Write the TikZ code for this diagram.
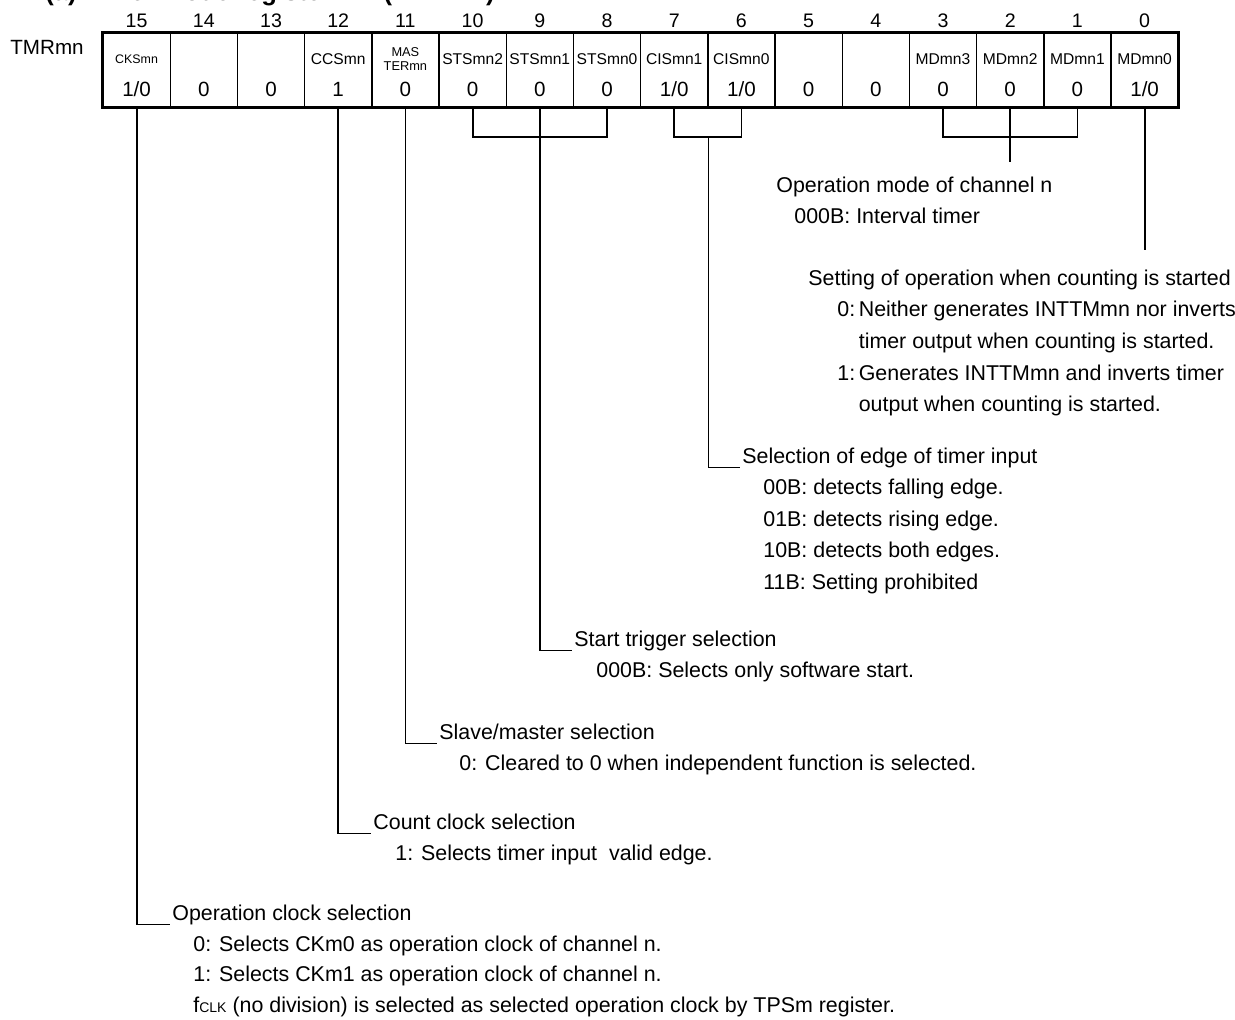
\documentclass[tikz,border=0pt]{standalone}
\usepackage{fontspec}
\setmainfont{Liberation Sans}
\usetikzlibrary{calc}

\newcommand{\vOneZero}{1/0}
\newcommand{\hang}[1]{\makebox[1em][l]{#1}}

\tikzset{
  bitno/.style={font=\fontsize{9.8}{11}\selectfont, inner sep=0pt},
  fldname/.style={font=\fontsize{7.8}{9}\selectfont, inner sep=0pt},
  fldsmall/.style={font=\fontsize{6.2}{7}\selectfont, inner sep=0pt, align=center},
  fldval/.style={font=\fontsize{10.3}{11}\selectfont, inner sep=0pt},
  cell/.style={draw, line width=0.7pt, minimum width=33.6pt, minimum height=37pt, inner sep=0pt},
  desc/.style={font=\fontsize{10.7}{15.8}\selectfont, align=left, inner sep=0pt, anchor=north west},
  conn/.style={line width=0.9pt},
}

\begin{document}
\begin{tikzpicture}[x=0.5pt,y=-0.5pt]
  \useasboundingbox (0,0) rectangle (1235,1019);
  % title, cut by the top edge of the page
  \node[anchor=base west, inner sep=0pt, font=\bfseries\fontsize{12.8}{14}\selectfont] (ttlno) at (45,0) {(a)};
  \node[anchor=base west, inner sep=0pt, font=\bfseries\fontsize{12.8}{14}\selectfont] (ttl) at (85,0) {Timer mode register mn (TMRmn)};
  % register
  \node[font=\fontsize{10.3}{12}\selectfont, inner sep=0pt] (reg) at (47,47) {TMRmn};
  \foreach \b/\nm/\v [count=\i from 0] in {15//\vOneZero,14//0,13//0,12/CCSmn/1,11//0,
      10/STSmn2/0,9/STSmn1/0,8/STSmn0/0,7/CISmn1/\vOneZero,6/CISmn0/\vOneZero,
      5//0,4//0,3/MDmn3/0,2/MDmn2/0,1/MDmn1/0,0/MDmn0/\vOneZero} {
    \node[cell] (cell\b) at (136.6+67.2*\i,70) {};
    \node[bitno] (bit\b) at (136.6+67.2*\i,21) {\b};
    \node[fldname] (nm\b) at (136.6+67.2*\i,59) {\nm};
    \node[fldval] (val\b) at (136.6+67.2*\i,89) {\v};
  }
  \node[fldsmall] (nmcks) at (cell15.center |- 0,59) {CKSmn};
  \node[fldsmall, font=\fontsize{6.4}{7.4}\selectfont] (nmmst) at (cell11.center |- 0,59) {MAS\\TERmn};
  \draw[line width=1.5pt] (cell15.north west) rectangle (cell0.south east);

  % descriptions
  \node[desc] (tmd) at (776,176.5) {Operation mode of channel n};
  \node[desc] (tmdA) at (794,207.5) {000B: Interval timer};
  \node[desc] (tset) at (808,269.5) {Setting of operation when counting is started};
  \node[desc] (tsetA) at (837,301) {\hang{0:}Neither generates INTTMmn nor inverts\\
    \hspace{1em}timer output when counting is started.\\
    \hang{1:}Generates INTTMmn and inverts timer\\
    \hspace{1em}output when counting is started.};
  \node[desc] (tcis) at (742,447.5) {Selection of edge of timer input};
  \node[desc] (tcisA) at (763,478.5) {00B: detects falling edge.\\01B: detects rising edge.\\
    10B: detects both edges.\\11B: Setting prohibited};
  \node[desc] (tsts) at (574,630.5) {Start trigger selection};
  \node[desc] (tstsA) at (596,661.5) {000B: Selects only software start.};
  \node[desc] (tmst) at (439,723.5) {Slave/master selection};
  \node[desc] (tmstA) at (459,754.5) {0: Cleared to 0 when independent function is selected.};
  \node[desc] (tccs) at (373,813.5) {Count clock selection};
  \node[desc] (tccsA) at (395,844.5) {1: Selects timer input~ valid edge.};
  \node[desc] (tcks) at (172,904.5) {Operation clock selection};
  \node[desc, font=\fontsize{10.7}{15.2}\selectfont] (tcksA) at (193,935.5) {0: Selects CKm0 as operation clock of channel n.\\
    1: Selects CKm1 as operation clock of channel n.\\
    f{\fontsize{7}{8}\selectfont CLK} (no division) is selected as selected operation clock by TPSm register.};

  % connectors
  \draw[conn] (cell3.south) -- ++(0,29) -| (cell1.south);
  \draw[conn] (cell2.south) -- ++(0,54);
  \draw[conn] (cell0.south) -- ++(0,142);
  \draw[conn] (cell7.south) -- ++(0,29) -| (cell6.south);
  \coordinate (cisj) at ($(cell7.south east)+(0,29)$);
  \draw[conn] (cisj) |- ([shift={(-1pt,-2pt)}]tcis.base west);
  \draw[conn] (cell10.south) -- ++(0,29) -| (cell8.south);
  \draw[conn] (cell9.south) |- ([shift={(-1pt,-2pt)}]tsts.base west);
  \draw[conn] (cell11.south) |- ([shift={(-1pt,-2pt)}]tmst.base west);
  \draw[conn] (cell12.south) |- ([shift={(-1pt,-2pt)}]tccs.base west);
  \draw[conn] (cell15.south) |- ([shift={(-1pt,-2pt)}]tcks.base west);
\end{tikzpicture}
\end{document}
